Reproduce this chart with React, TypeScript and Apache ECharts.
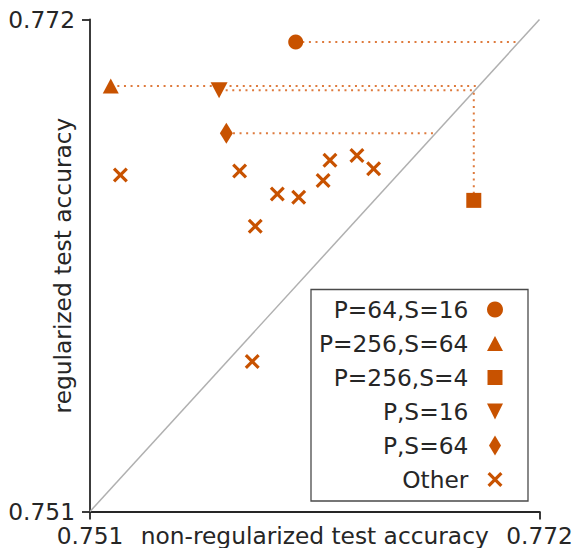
import React, { useEffect, useRef } from "react";
import * as echarts from "echarts";

// Axis range / ticks
const axisTicks = [0.751, 0.772];

// Named configurations: [non-regularized, regularized]
const pointP64S16 = [0.76061, 0.77104];
const pointP256S64 = [0.75197, 0.76916];
const pointP256S4 = [0.76893, 0.76428];
const pointPS16 = [0.75703, 0.76898];
const pointPS64 = [0.75737, 0.76714];

// Other configurations
const otherX = [0.75242, 0.75799, 0.75975, 0.76075, 0.75872, 0.76189, 0.76221, 0.76347, 0.76425, 0.75858];
const otherY = [0.76536, 0.76553, 0.76455, 0.76441, 0.76318, 0.76513, 0.76599, 0.7662, 0.76563, 0.7574];

const legendNames = ["P=64,S=16", "P=256,S=64", "P=256,S=4", "P,S=16", "P,S=64", "Other"];

const ORANGE = "#c85200";
const GUIDE = "#de7a3c";
const TEXT = "#262626";
const FONT = "DejaVu Sans";
const FS = 23.3;

const INV_TRI = "path://M0,0L10,0L5,10Z";
const CROSS = "path://M1.5,0L5,3.5L8.5,0L10,1.5L6.5,5L10,8.5L8.5,10L5,6.5L1.5,10L0,8.5L3.5,5L0,1.5Z";

export default function App() {
  const ref = useRef<HTMLDivElement>(null);

  useEffect(() => {
    if (!ref.current) return;
    const chart = echarts.init(ref.current, undefined, { renderer: "svg" });

    const lo = axisTicks[0];
    const hi = axisTicks[axisTicks.length - 1];

    const hGuide = (p: number[]) => [[p[0], p[1]], [p[1], p[1]]];
    const vGuide = (p: number[]) => [[p[0], p[1]], [p[0], p[0]]];

    const guideSeries = (data: number[][]) => ({
      type: "line",
      data,
      symbol: "none",
      silent: true,
      z: 1,
      lineStyle: { color: GUIDE, width: 2, type: [2, 4.6] },
    });

    const markerDefs = [
      { name: legendNames[0], data: [pointP64S16], symbol: "circle", size: 15, icon: "circle", iw: 16, ih: 16 },
      { name: legendNames[1], data: [pointP256S64], symbol: "triangle", size: [16, 15], icon: "triangle", iw: 16, ih: 15 },
      { name: legendNames[2], data: [pointP256S4], symbol: "rect", size: 15, icon: "rect", iw: 15, ih: 15 },
      { name: legendNames[3], data: [pointPS16], symbol: INV_TRI, size: [17, 16], icon: INV_TRI, iw: 16, ih: 16 },
      { name: legendNames[4], data: [pointPS64], symbol: "diamond", size: [13, 21], icon: "diamond", iw: 12, ih: 20 },
      {
        name: legendNames[5],
        data: otherX.map((x, i) => [x, otherY[i]]),
        symbol: CROSS,
        size: 15,
        icon: CROSS,
        iw: 15,
        ih: 15,
      },
    ];

    const scatterSeries = markerDefs.map((d) => ({
      type: "scatter",
      name: d.name,
      data: d.data,
      symbol: d.symbol,
      symbolSize: d.size,
      itemStyle: { color: ORANGE, opacity: 1 },
      z: 3,
    }));

    const iconCenterX = 495;
    const textRight = 468.3;
    const legends = markerDefs.map((d, i) => {
      const cy = 309.5 + 34 * i;
      const h = Math.max(d.ih, 23);
      const iconLeft = iconCenterX - d.iw / 2;
      return {
        data: [{ name: d.name, icon: d.icon }],
        orient: "vertical",
        align: "right",
        right: 576 - (iconCenterX + d.iw / 2),
        top: cy - h / 2,
        padding: 0,
        itemGap: 0,
        itemWidth: d.iw,
        itemHeight: d.ih,
        selectedMode: false,
        z: 5,
        textStyle: {
          fontFamily: FONT,
          fontSize: FS,
          lineHeight: 23,
          color: TEXT,
          padding: [0, iconLeft - 5 - textRight, 0, 0],
        },
      };
    });

    const axisCommon = {
      type: "value",
      min: lo,
      max: hi,
      nameLocation: "middle",
      nameMoveOverlap: false,
      nameTextStyle: { fontFamily: FONT, fontSize: FS, color: TEXT },
      axisLine: { show: true, onZero: false, lineStyle: { color: TEXT, width: 1.8 } },
      axisTick: { show: true, length: 8, customValues: axisTicks, lineStyle: { color: TEXT, width: 1.8 } },
      splitLine: { show: false },
    };

    chart.setOption({
      animation: false,
      backgroundColor: "#ffffff",
      grid: {
        left: 90,
        right: 36.5,
        top: 19.5,
        bottom: 36.5,
        containLabel: false,
        outerBoundsMode: "none",
      },
      xAxis: {
        ...axisCommon,
        name: "non-regularized test accuracy",
        nameGap: 12,
        axisLabel: {
          customValues: axisTicks,
          margin: 12,
          fontFamily: FONT,
          fontSize: FS,
          color: TEXT,
          formatter: (v: number) => v.toFixed(3),
        },
      },
      yAxis: {
        ...axisCommon,
        name: "regularized test accuracy",
        nameGap: 16,
        axisLabel: {
          customValues: axisTicks,
          margin: 15,
          fontFamily: FONT,
          fontSize: FS,
          color: TEXT,
          formatter: (v: number) => v.toFixed(3),
        },
      },
      legend: legends,
      graphic: [
        {
          type: "rect",
          z: 4,
          shape: { x: 311, y: 289.5, width: 217, height: 211.5 },
          style: { fill: "#ffffff", stroke: "#4a4a4a", lineWidth: 1.3 },
        },
      ],
      series: [
        {
          type: "line",
          data: [[lo, lo], [hi, hi]],
          symbol: "none",
          silent: true,
          z: 1,
          lineStyle: { color: "#b0b0b0", width: 1.5 },
        },
        guideSeries(hGuide(pointP64S16)),
        guideSeries(hGuide(pointP256S64)),
        guideSeries(vGuide(pointP256S4)),
        guideSeries(hGuide(pointPS16)),
        guideSeries(hGuide(pointPS64)),
        ...scatterSeries,
      ],
    });

    return () => chart.dispose();
  }, []);

  return (
    <div
      ref={ref}
      style={{ position: "fixed", left: 0, top: 0, width: 576, height: 548, background: "#fff" }}
    />
  );
}
